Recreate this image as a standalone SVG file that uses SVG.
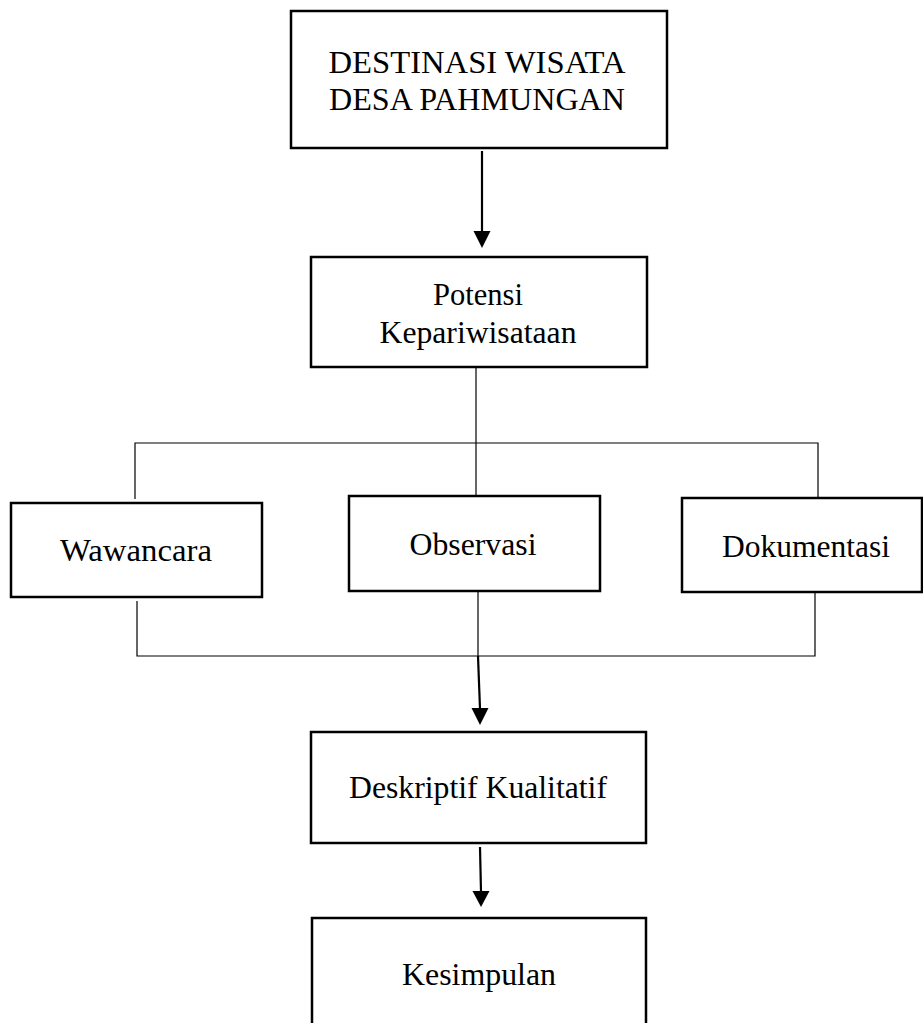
<svg xmlns="http://www.w3.org/2000/svg" width="923" height="1023" viewBox="0 0 923 1023">
<style>
.box{fill:#fff;stroke:#000;stroke-width:2.5}
.t{font-family:"Liberation Serif","Times New Roman",serif;font-size:31px;fill:#000;text-anchor:middle}
.thin{fill:none;stroke:#000;stroke-width:1.2}
.thick{fill:none;stroke:#000;stroke-width:2.2}
</style>
<rect width="923" height="1023" fill="#fff"/>
<g id="connectors">
<line class="thick" x1="482" y1="151" x2="482" y2="232"/>
<path d="M473.5,231 L490.5,231 L482,248 Z" fill="#000"/>
<polyline class="thin" points="476,368 476,443"/>
<polyline class="thin" points="135,499 135,443 818,443 818,500"/>
<polyline class="thin" points="476,443 476,496"/>
<polyline class="thin" points="137,601 137,656 815,656 815,592"/>
<polyline class="thin" points="478,591 478,656"/>
<line class="thick" x1="478" y1="656" x2="480" y2="709"/>
<path d="M471.5,708 L488.5,708 L480,725 Z" fill="#000"/>
<line class="thick" x1="480" y1="847" x2="481" y2="892"/>
<path d="M472.5,891 L489.5,891 L481,907 Z" fill="#000"/>
</g>
<g id="n-destinasi">
<rect class="box" x="291" y="11" width="376" height="137"/>
<text class="t" x="477" y="73" textLength="297" lengthAdjust="spacingAndGlyphs">DESTINASI WISATA</text>
<text class="t" x="477" y="110" textLength="296" lengthAdjust="spacingAndGlyphs">DESA PAHMUNGAN</text>
</g>
<g id="n-potensi">
<rect class="box" x="311" y="257" width="336" height="110"/>
<text class="t" x="478" y="305" textLength="90" lengthAdjust="spacingAndGlyphs">Potensi</text>
<text class="t" x="478" y="343" textLength="197" lengthAdjust="spacingAndGlyphs">Kepariwisataan</text>
</g>
<g id="n-wawancara">
<rect class="box" x="11" y="503" width="251" height="94"/>
<text class="t" x="136" y="561" textLength="152" lengthAdjust="spacingAndGlyphs">Wawancara</text>
</g>
<g id="n-observasi">
<rect class="box" x="349" y="496" width="251" height="95"/>
<text class="t" x="473" y="555" textLength="127" lengthAdjust="spacingAndGlyphs">Observasi</text>
</g>
<g id="n-dokumentasi">
<rect class="box" x="682" y="498" width="240" height="94"/>
<text class="t" x="806" y="557" textLength="168" lengthAdjust="spacingAndGlyphs">Dokumentasi</text>
</g>
<g id="n-deskriptif">
<rect class="box" x="311" y="732" width="335" height="111"/>
<text class="t" x="478" y="798" textLength="258" lengthAdjust="spacingAndGlyphs">Deskriptif Kualitatif</text>
</g>
<g id="n-kesimpulan">
<rect class="box" x="312" y="918" width="334" height="120"/>
<text class="t" x="479" y="985" textLength="154" lengthAdjust="spacingAndGlyphs">Kesimpulan</text>
</g>
</svg>
